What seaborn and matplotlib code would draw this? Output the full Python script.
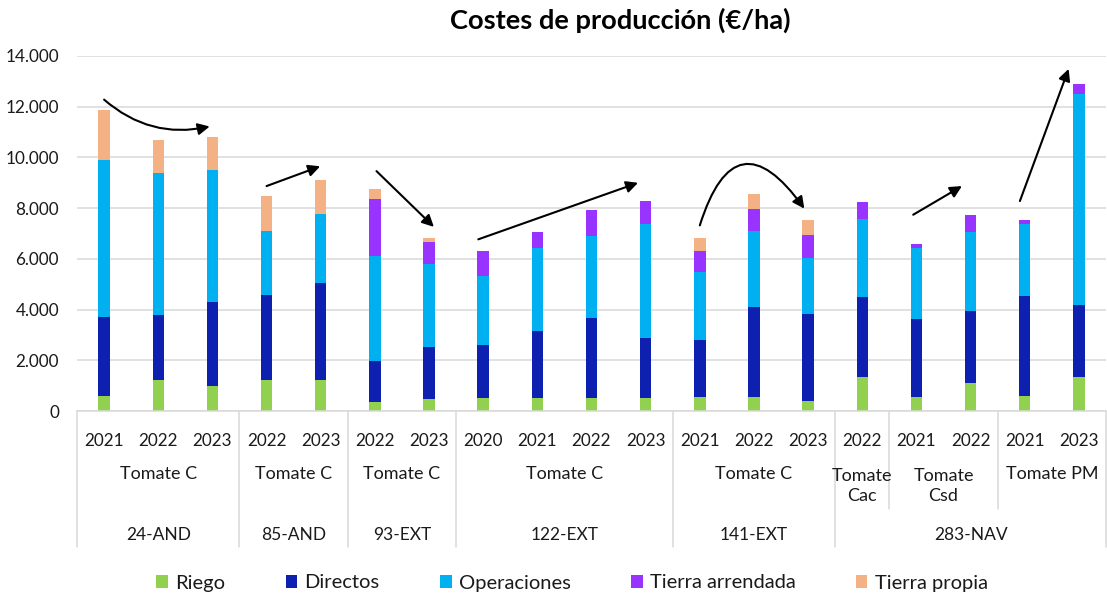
import numpy as np
import pandas as pd
import matplotlib
matplotlib.use("Agg")
import matplotlib.pyplot as plt
import matplotlib.transforms as mtransforms
from matplotlib.patches import Patch
from matplotlib.ticker import FuncFormatter, MultipleLocator
import seaborn as sns

# ---------------- data ----------------
years = ["2021", "2022", "2023", "2022", "2023", "2022", "2023", "2020", "2021",
         "2022", "2023", "2021", "2022", "2023", "2022", "2021", "2022", "2021", "2023"]
crop_labels = ["Tomate C", "Tomate C", "Tomate C", "Tomate C", "Tomate C",
               "Tomate\nCac", "Tomate\nCsd", "Tomate PM"]
crop_sizes = [3, 2, 2, 4, 3, 1, 2, 2]
site_labels = ["24-AND", "85-AND", "93-EXT", "122-EXT", "141-EXT", "283-NAV"]
site_sizes = [3, 2, 2, 4, 3, 5]

riego = [590, 1220, 980, 1220, 1220, 340, 460, 500, 500, 500, 500, 550, 550, 380, 1340, 550, 1090, 600, 1340]
directos = [3120, 2550, 3320, 3350, 3810, 1640, 2070, 2090, 2650, 3160, 2370, 2260, 3560, 3430, 3160, 3070, 2870, 3930, 2850]
operaciones = [6200, 5610, 5200, 2540, 2740, 4130, 3280, 2720, 3290, 3240, 4500, 2690, 3000, 2240, 3060, 2810, 3090, 2840, 8320]
arrendada = [0, 0, 0, 0, 0, 2250, 870, 1000, 610, 1040, 930, 810, 850, 890, 670, 140, 670, 160, 390]
propia = [1980, 1300, 1300, 1350, 1340, 410, 140, 0, 0, 0, 0, 530, 580, 590, 0, 0, 0, 0, 0]

series_names = ["Riego", "Directos", "Operaciones", "Tierra arrendada", "Tierra propia"]
series_vals = [riego, directos, operaciones, arrendada, propia]
colors = ["#92D050", "#0D20B0", "#00B0F0", "#9933FF", "#F4B183"]

# trend arrows: (bar index start, value start, bar index end, value end, curvature)
arrows = [
    (0.0, 12280, 1.95, 11220, 0.25),
    (3.0, 8870, 3.99, 9650, 0.0),
    (5.03, 9460, 6.09, 7260, 0.0),
    (6.91, 6770, 9.86, 9000, 0.0),
    (11.0, 7320, 12.93, 7980, -1.0),
    (14.94, 7740, 15.84, 8870, 0.0),
    (16.91, 8280, 17.81, 13490, 0.0),
]

# ---------------- build long table (cumulative for stacking) ----------------
rows = []
cum = np.zeros(len(years))
for name, vals in zip(series_names, series_vals):
    cum = cum + np.array(vals, dtype=float)
    for i, v in enumerate(cum):
        rows.append({"pos": i, "serie": name, "valor": v})
df = pd.DataFrame(rows)

# ---------------- figure ----------------
sns.set_theme(style="white")
plt.rcParams["font.family"] = ["Lato", "DejaVu Sans"]

W, H = 1107, 599
fig = plt.figure(figsize=(W / 100, H / 100), dpi=100)
ax_left, ax_right, ax_bottom, ax_top = 77, 1106, 411, 56
ax = fig.add_axes([ax_left / W, 1 - ax_bottom / H, (ax_right - ax_left) / W, (ax_bottom - ax_top) / H])

hue_order = series_names[::-1]
pal = dict(zip(series_names, colors))
sns.barplot(data=df, x="pos", y="valor", hue="serie", hue_order=hue_order,
            palette=pal, dodge=False, width=0.21, saturation=1, ax=ax,
            legend=False, linewidth=0, errorbar=None)

ax.set_ylim(0, 14000)
ax.set_xlim(-0.5, len(years) - 0.5)
ax.yaxis.set_major_locator(MultipleLocator(2000))
ax.yaxis.set_major_formatter(FuncFormatter(lambda v, p: f"{int(v):,}".replace(",", ".")))
ax.grid(axis="y", color="#D9D9D9", lw=1.1)
ax.set_axisbelow(True)
for s in ["left", "right", "top"]:
    ax.spines[s].set_visible(False)
ax.spines["bottom"].set_color("#D9D9D9")
ax.spines["bottom"].set_linewidth(1.1)
ax.set_xlabel("")
ax.set_ylabel("")
txtc = "#1a1a1a"
ax.tick_params(axis="y", length=0, pad=13, labelsize=12.3, labelcolor=txtc)
ax.set_xticks(range(len(years)))
ax.set_xticklabels(years)
ax.tick_params(axis="x", length=0, pad=16, labelsize=12.3, labelcolor=txtc)

# multi-level category labels
ax_h = ax_bottom - ax_top
def yfrac(ypix):
    return -(ypix - ax_bottom) / ax_h

trans = mtransforms.blended_transform_factory(ax.transData, ax.transAxes)
start = 0
for lab, n in zip(crop_labels, crop_sizes):
    c = start + (n - 1) / 2
    ax.text(c, yfrac(474 if "\n" not in lab else 486), lab, transform=trans,
            ha="center", va="center", fontsize=13, color=txtc, linespacing=1.35)
    start += n
start = 0
for lab, n in zip(site_labels, site_sizes):
    c = start + (n - 1) / 2
    ax.text(c, yfrac(535), lab, transform=trans, ha="center", va="center",
            fontsize=12.5, color=txtc)
    start += n

# separators
site_bounds = np.cumsum([0] + site_sizes) - 0.5
crop_bounds = np.cumsum([0] + crop_sizes) - 0.5
for b in site_bounds:
    ax.plot([b, b], [0, yfrac(547)], transform=trans, color="#D9D9D9", lw=1.1, clip_on=False)
for b in crop_bounds:
    if b not in site_bounds:
        ax.plot([b, b], [0, yfrac(509)], transform=trans, color="#D9D9D9", lw=1.1, clip_on=False)

# arrows
for x0, y0, x1, y1, rad in arrows:
    ax.annotate("", xy=(x1, y1), xytext=(x0, y0),
                arrowprops=dict(arrowstyle="-|>,head_length=0.5,head_width=0.25", color="black", lw=1.5,
                                mutation_scale=14, shrinkA=0, shrinkB=0,
                                connectionstyle=f"arc3,rad={rad}"),
                annotation_clip=False)

# title
fig.text(620 / W, 1 - 20 / H, "Costes de producción (€/ha)", ha="center", va="center",
         fontsize=19.6, fontweight="bold", color="black")

# legend
handles = [Patch(facecolor=c, edgecolor="none", label=n) for n, c in zip(series_names, colors)]
fig.legend(handles=handles, loc="center", bbox_to_anchor=(572 / W, 1 - 583 / H), ncol=5,
           frameon=False, fontsize=14.5, handlelength=0.58, handleheight=0.58,
           handletextpad=0.35, columnspacing=3.0, labelcolor=txtc)

fig.savefig("out.png", dpi=100)
